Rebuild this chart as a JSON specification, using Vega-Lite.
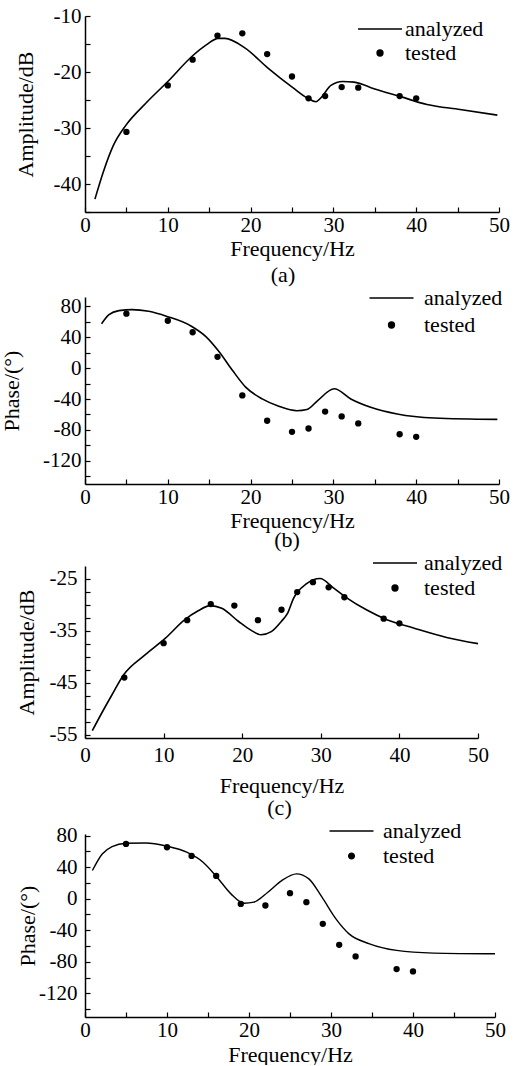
{
  "$schema": "https://vega.github.io/schema/vega-lite/v6.json",
  "background": "white",
  "padding": {"left": 0, "top": 5, "right": 5, "bottom": 0},
  "spacing": 0,
  "config": {
    "view": {"stroke": null},
    "font": "Liberation Serif",
    "axis": {
      "grid": false,
      "domainColor": "black",
      "domainWidth": 1.5,
      "tickColor": "black",
      "tickWidth": 1.2,
      "tickSize": -5,
      "labelFont": "Liberation Serif",
      "labelFontSize": 21,
      "labelColor": "black",
      "labelPadding": 9,
      "labelFlush": false,
      "labelOverlap": false,
      "titleFont": "Liberation Serif",
      "titleFontSize": 22,
      "titleFontWeight": "normal",
      "titleColor": "black"
    },
    "legend": {
      "orient": "none",
      "title": null,
      "padding": 0,
      "symbolSize": 1936,
      "clipHeight": 23,
      "labelFont": "Liberation Serif",
      "labelFontSize": 22,
      "labelColor": "black"
    },
    "title": {"font": "Liberation Serif", "fontSize": 22, "fontWeight": "normal", "color": "black"}
  },
  "resolve": {"scale": {"x": "independent", "y": "independent", "color": "independent"}, "legend": {"color": "independent"}},
  "datasets": {
    "a_line": [
      {"f": 1.2, "v": -42.7, "s": "analyzed"}, {"f": 2.2, "v": -37.9, "s": "analyzed"}, {"f": 3.4, "v": -33.2, "s": "analyzed"},
      {"f": 5.0, "v": -29.4, "s": "analyzed"}, {"f": 7.4, "v": -25.5, "s": "analyzed"}, {"f": 10.0, "v": -21.7, "s": "analyzed"},
      {"f": 13.0, "v": -17.1, "s": "analyzed"}, {"f": 14.6, "v": -15.2, "s": "analyzed"}, {"f": 16.1, "v": -14.0, "s": "analyzed"},
      {"f": 16.9, "v": -14.0, "s": "analyzed"}, {"f": 19.3, "v": -15.7, "s": "analyzed"}, {"f": 22.1, "v": -19.3, "s": "analyzed"},
      {"f": 25.1, "v": -22.8, "s": "analyzed"}, {"f": 26.9, "v": -24.7, "s": "analyzed"}, {"f": 27.9, "v": -25.3, "s": "analyzed"},
      {"f": 28.5, "v": -24.6, "s": "analyzed"}, {"f": 29.7, "v": -22.4, "s": "analyzed"}, {"f": 31.1, "v": -21.7, "s": "analyzed"},
      {"f": 32.5, "v": -21.8, "s": "analyzed"}, {"f": 34.9, "v": -23.0, "s": "analyzed"}, {"f": 38.1, "v": -24.4, "s": "analyzed"},
      {"f": 41.3, "v": -25.8, "s": "analyzed"}, {"f": 45.3, "v": -26.7, "s": "analyzed"}, {"f": 49.8, "v": -27.7, "s": "analyzed"}
    ],
    "a_pts": [
      {"f": 5, "v": -30.7, "s": "tested"}, {"f": 10, "v": -22.4, "s": "tested"}, {"f": 13, "v": -17.8, "s": "tested"},
      {"f": 16, "v": -13.5, "s": "tested"}, {"f": 19, "v": -13.1, "s": "tested"}, {"f": 22, "v": -16.8, "s": "tested"},
      {"f": 25, "v": -20.8, "s": "tested"}, {"f": 27, "v": -24.7, "s": "tested"}, {"f": 29, "v": -24.3, "s": "tested"},
      {"f": 31, "v": -22.7, "s": "tested"}, {"f": 33, "v": -22.8, "s": "tested"}, {"f": 38, "v": -24.3, "s": "tested"},
      {"f": 40, "v": -24.7, "s": "tested"}
    ],
    "b_line": [
      {"f": 2.0, "v": 57.4, "s": "analyzed"}, {"f": 2.9, "v": 69.2, "s": "analyzed"}, {"f": 4.1, "v": 74.4, "s": "analyzed"},
      {"f": 5.7, "v": 75.7, "s": "analyzed"}, {"f": 7.7, "v": 73.5, "s": "analyzed"}, {"f": 9.9, "v": 66.9, "s": "analyzed"},
      {"f": 12.9, "v": 53.9, "s": "analyzed"}, {"f": 14.6, "v": 40.8, "s": "analyzed"}, {"f": 16.2, "v": 21.2, "s": "analyzed"},
      {"f": 17.8, "v": -2.8, "s": "analyzed"}, {"f": 19.4, "v": -24.6, "s": "analyzed"}, {"f": 21.4, "v": -39.9, "s": "analyzed"},
      {"f": 23.4, "v": -49.4, "s": "analyzed"}, {"f": 25.6, "v": -55.2, "s": "analyzed"}, {"f": 26.8, "v": -53.7, "s": "analyzed"},
      {"f": 28.1, "v": -42.0, "s": "analyzed"}, {"f": 30.1, "v": -26.8, "s": "analyzed"}, {"f": 32.1, "v": -39.9, "s": "analyzed"},
      {"f": 34.5, "v": -50.7, "s": "analyzed"}, {"f": 37.7, "v": -59.4, "s": "analyzed"}, {"f": 42.2, "v": -64.6, "s": "analyzed"},
      {"f": 49.8, "v": -66.4, "s": "analyzed"}
    ],
    "b_pts": [
      {"f": 5, "v": 70.4, "s": "tested"}, {"f": 10, "v": 61.3, "s": "tested"}, {"f": 13, "v": 46.4, "s": "tested"},
      {"f": 16, "v": 14.6, "s": "tested"}, {"f": 19, "v": -35.4, "s": "tested"}, {"f": 22, "v": -68.1, "s": "tested"},
      {"f": 25, "v": -82.5, "s": "tested"}, {"f": 27, "v": -78.2, "s": "tested"}, {"f": 29, "v": -56.3, "s": "tested"},
      {"f": 31, "v": -62.5, "s": "tested"}, {"f": 33, "v": -71.6, "s": "tested"}, {"f": 38, "v": -85.6, "s": "tested"},
      {"f": 40, "v": -89.0, "s": "tested"}
    ],
    "c_line": [
      {"f": 0.93, "v": -54.2, "s": "analyzed"}, {"f": 2.1, "v": -50.9, "s": "analyzed"}, {"f": 3.4, "v": -47.4, "s": "analyzed"},
      {"f": 4.9, "v": -43.5, "s": "analyzed"}, {"f": 7.6, "v": -39.7, "s": "analyzed"}, {"f": 10.2, "v": -36.5, "s": "analyzed"},
      {"f": 12.7, "v": -32.9, "s": "analyzed"}, {"f": 14.4, "v": -31.2, "s": "analyzed"}, {"f": 15.9, "v": -30.2, "s": "analyzed"},
      {"f": 17.4, "v": -30.7, "s": "analyzed"}, {"f": 19.5, "v": -33.2, "s": "analyzed"}, {"f": 21.2, "v": -35.0, "s": "analyzed"},
      {"f": 22.4, "v": -35.8, "s": "analyzed"}, {"f": 23.7, "v": -35.2, "s": "analyzed"}, {"f": 25.0, "v": -33.2, "s": "analyzed"},
      {"f": 25.8, "v": -31.6, "s": "analyzed"}, {"f": 26.5, "v": -28.9, "s": "analyzed"}, {"f": 28.2, "v": -26.0, "s": "analyzed"},
      {"f": 29.9, "v": -25.0, "s": "analyzed"}, {"f": 31.6, "v": -26.8, "s": "analyzed"}, {"f": 33.3, "v": -28.7, "s": "analyzed"},
      {"f": 35.8, "v": -31.0, "s": "analyzed"}, {"f": 38.4, "v": -32.9, "s": "analyzed"}, {"f": 41.8, "v": -34.5, "s": "analyzed"},
      {"f": 46.0, "v": -36.3, "s": "analyzed"}, {"f": 50.0, "v": -37.5, "s": "analyzed"}
    ],
    "c_pts": [
      {"f": 5, "v": -44.0, "s": "tested"}, {"f": 10, "v": -37.4, "s": "tested"}, {"f": 13, "v": -33.0, "s": "tested"},
      {"f": 16, "v": -29.9, "s": "tested"}, {"f": 19, "v": -30.2, "s": "tested"}, {"f": 22, "v": -33.0, "s": "tested"},
      {"f": 25, "v": -31.0, "s": "tested"}, {"f": 27, "v": -27.6, "s": "tested"}, {"f": 29, "v": -25.7, "s": "tested"},
      {"f": 31, "v": -26.7, "s": "tested"}, {"f": 33, "v": -28.6, "s": "tested"}, {"f": 38, "v": -32.7, "s": "tested"},
      {"f": 40, "v": -33.6, "s": "tested"}
    ],
    "d_line": [
      {"f": 0.9, "v": 35.7, "s": "analyzed"}, {"f": 2.1, "v": 56.7, "s": "analyzed"}, {"f": 3.3, "v": 66.1, "s": "analyzed"},
      {"f": 5.0, "v": 70.3, "s": "analyzed"}, {"f": 7.4, "v": 70.6, "s": "analyzed"}, {"f": 10.0, "v": 66.5, "s": "analyzed"},
      {"f": 12.4, "v": 58.9, "s": "analyzed"}, {"f": 14.4, "v": 46.2, "s": "analyzed"}, {"f": 16.1, "v": 27.2, "s": "analyzed"},
      {"f": 17.8, "v": 6.1, "s": "analyzed"}, {"f": 19.4, "v": -5.7, "s": "analyzed"}, {"f": 20.6, "v": -4.4, "s": "analyzed"},
      {"f": 22.3, "v": 8.2, "s": "analyzed"}, {"f": 24.0, "v": 23.0, "s": "analyzed"}, {"f": 25.8, "v": 31.4, "s": "analyzed"},
      {"f": 27.3, "v": 25.1, "s": "analyzed"}, {"f": 28.9, "v": 1.9, "s": "analyzed"}, {"f": 30.6, "v": -25.6, "s": "analyzed"},
      {"f": 32.2, "v": -44.6, "s": "analyzed"}, {"f": 34.7, "v": -57.2, "s": "analyzed"}, {"f": 38.0, "v": -65.6, "s": "analyzed"},
      {"f": 42.5, "v": -69.0, "s": "analyzed"}, {"f": 50.0, "v": -69.9, "s": "analyzed"}
    ],
    "d_pts": [
      {"f": 5, "v": 69.4, "s": "tested"}, {"f": 10, "v": 65.2, "s": "tested"}, {"f": 13, "v": 54.2, "s": "tested"},
      {"f": 16, "v": 28.9, "s": "tested"}, {"f": 19, "v": -6.6, "s": "tested"}, {"f": 22, "v": -8.6, "s": "tested"},
      {"f": 25, "v": 7.0, "s": "tested"}, {"f": 27, "v": -4.4, "s": "tested"}, {"f": 29, "v": -31.9, "s": "tested"},
      {"f": 31, "v": -58.5, "s": "tested"}, {"f": 33, "v": -73.2, "s": "tested"}, {"f": 38, "v": -89.3, "s": "tested"},
      {"f": 40, "v": -92.2, "s": "tested"}
    ]
  },
  "vconcat": [
    {
      "width": 414, "height": 196,
      "title": {"text": "(a)", "orient": "bottom", "frame": "group", "anchor": "middle", "offset": 5.5, "dx": -9},
      "resolve": {"axis": {"y": "independent"}},
      "layer": [
        {
          "data": {"name": "a_line"},
          "mark": {"type": "line", "interpolate": "monotone", "strokeWidth": 1.6},
          "encoding": {
            "x": {"field": "f", "type": "quantitative", "scale": {"domain": [0, 50], "nice": false},
                  "axis": {"title": "Frequency/Hz", "values": [0, 5, 10, 15, 20, 25, 30, 35, 40, 45, 50], "labelExpr": "datum.value % 10 === 0 ? '' + datum.value : ''", "labelOverlap": false, "labelPadding": 7, "titlePadding": 3}},
            "y": {"field": "v", "type": "quantitative", "scale": {"domain": [-45, -10], "nice": false, "zero": false},
                  "axis": {"orient": "left", "title": "Amplitude/dB", "values": [-40, -30, -20, -10], "labelExpr": "'' + datum.value", "labelPadding": 9, "titlePadding": 16}},
            "color": {"field": "s", "type": "nominal", "scale": {"domain": ["analyzed", "tested"], "range": ["black", "black"]},
                      "legend": {"legendX": 272, "legendY": 1.5, "labelOffset": 2, "rowPadding": 1,
                                 "encode": {"symbols": {"update": {
                                   "shape": {"signal": "datum.value === 'analyzed' ? 'M-1,0H1' : 'M-0.13,0A0.13,0.13 0 1,0 0.13,0A0.13,0.13 0 1,0 -0.13,0Z'"},
                                   "size": {"value": 1936},
                                   "strokeWidth": {"value": 1.6},
                                   "fill": {"signal": "datum.value === 'analyzed' ? 'transparent' : 'black'"},
                                   "stroke": {"value": "black"}, "opacity": {"value": 1}}}}}}
          }
        },
        {
          "data": {"name": "a_pts"},
          "mark": {"type": "point", "filled": true, "size": 40, "opacity": 1},
          "encoding": {"x": {"field": "f", "type": "quantitative"},
                       "y": {"field": "v", "type": "quantitative", "axis": {"orient": "left", "values": [-45, -35, -25, -15], "labels": false, "domain": false, "title": null}},
                       "color": {"field": "s", "type": "nominal"}}
        }
      ]
    },
    {
      "width": 414, "height": 187,
      "title": {"text": "(b)", "orient": "bottom", "frame": "group", "anchor": "middle", "offset": -1, "dx": -5},
      "resolve": {"axis": {"y": "independent"}},
      "layer": [
        {
          "data": {"name": "b_line"},
          "mark": {"type": "line", "interpolate": "monotone", "strokeWidth": 1.6},
          "encoding": {
            "x": {"field": "f", "type": "quantitative", "scale": {"domain": [0, 50], "nice": false},
                  "axis": {"title": "Frequency/Hz", "values": [0, 5, 10, 15, 20, 25, 30, 35, 40, 45, 50], "labelExpr": "datum.value % 10 === 0 ? '' + datum.value : ''", "labelOverlap": false, "labelPadding": 7, "titlePadding": 3}},
            "y": {"field": "v", "type": "quantitative", "scale": {"domain": [-150, 92], "nice": false, "zero": false},
                  "axis": {"orient": "left", "title": "Phase/(°)", "values": [-120, -80, -40, 0, 40, 80], "labelExpr": "'' + datum.value", "labelPadding": 9, "titlePadding": 19.5}},
            "color": {"field": "s", "type": "nominal", "scale": {"domain": ["analyzed", "tested"], "range": ["black", "black"]},
                      "legend": {"legendX": 283.5, "legendY": -10.5, "labelOffset": 9.5, "rowPadding": 4,
                                 "encode": {"symbols": {"update": {
                                   "shape": {"signal": "datum.value === 'analyzed' ? 'M-1,0H1' : 'M-0.13,0A0.13,0.13 0 1,0 0.13,0A0.13,0.13 0 1,0 -0.13,0Z'"},
                                   "size": {"value": 1936},
                                   "strokeWidth": {"value": 1.6},
                                   "fill": {"signal": "datum.value === 'analyzed' ? 'transparent' : 'black'"},
                                   "stroke": {"value": "black"}, "opacity": {"value": 1}}}}}}
          }
        },
        {
          "data": {"name": "b_pts"},
          "mark": {"type": "point", "filled": true, "size": 40, "opacity": 1},
          "encoding": {"x": {"field": "f", "type": "quantitative"},
                       "y": {"field": "v", "type": "quantitative", "axis": {"orient": "left", "values": [-140, -100, -60, -20, 20, 60], "labels": false, "domain": false, "title": null}},
                       "color": {"field": "s", "type": "nominal"}}
        }
      ]
    },
    {
      "width": 393, "height": 172,
      "title": {"text": "(c)", "orient": "bottom", "frame": "group", "anchor": "middle", "offset": 2, "dx": -2},
      "resolve": {"axis": {"y": "independent"}},
      "layer": [
        {
          "data": {"name": "c_line"},
          "mark": {"type": "line", "interpolate": "monotone", "strokeWidth": 1.6},
          "encoding": {
            "x": {"field": "f", "type": "quantitative", "scale": {"domain": [0, 50], "nice": false},
                  "axis": {"title": "Frequency/Hz", "values": [0, 5, 10, 15, 20, 25, 30, 35, 40, 45, 50], "labelExpr": "datum.value % 10 === 0 ? '' + datum.value : ''", "labelOverlap": false, "labelPadding": 11, "titlePadding": 10}},
            "y": {"field": "v", "type": "quantitative", "scale": {"domain": [-55.6, -22.6], "nice": false, "zero": false},
                  "axis": {"orient": "left", "title": "Amplitude/dB", "values": [-55, -45, -35, -25], "labelExpr": "'' + datum.value", "labelPadding": 13, "titlePadding": 11}},
            "color": {"field": "s", "type": "nominal", "scale": {"domain": ["analyzed", "tested"], "range": ["black", "black"]},
                      "legend": {"legendX": 287, "legendY": -14.5, "labelOffset": 6, "rowPadding": 2,
                                 "encode": {"symbols": {"update": {
                                   "shape": {"signal": "datum.value === 'analyzed' ? 'M-1,0H1' : 'M-0.13,0A0.13,0.13 0 1,0 0.13,0A0.13,0.13 0 1,0 -0.13,0Z'"},
                                   "size": {"value": 1936},
                                   "strokeWidth": {"value": 1.6},
                                   "fill": {"signal": "datum.value === 'analyzed' ? 'transparent' : 'black'"},
                                   "stroke": {"value": "black"}, "opacity": {"value": 1}}}}}}
          }
        },
        {
          "data": {"name": "c_pts"},
          "mark": {"type": "point", "filled": true, "size": 40, "opacity": 1},
          "encoding": {"x": {"field": "f", "type": "quantitative"},
                       "y": {"field": "v", "type": "quantitative", "axis": {"orient": "left", "values": [-52.5, -50, -47.5, -42.5, -40, -37.5, -32.5, -30, -27.5], "labels": false, "domain": false, "title": null}},
                       "color": {"field": "s", "type": "nominal"}}
        }
      ]
    },
    {
      "width": 410, "height": 183,
      "resolve": {"axis": {"y": "independent"}},
      "layer": [
        {
          "data": {"name": "d_line"},
          "mark": {"type": "line", "interpolate": "monotone", "strokeWidth": 1.4},
          "encoding": {
            "x": {"field": "f", "type": "quantitative", "scale": {"domain": [0, 50], "nice": false},
                  "axis": {"title": "Frequency/Hz", "values": [0, 5, 10, 15, 20, 25, 30, 35, 40, 45, 50], "labelExpr": "datum.value % 10 === 0 ? '' + datum.value : ''", "labelOverlap": false, "labelPadding": 7, "titlePadding": 4}},
            "y": {"field": "v", "type": "quantitative", "scale": {"domain": [-150, 82], "nice": false, "zero": false},
                  "axis": {"orient": "left", "title": "Phase/(°)", "values": [-120, -80, -40, 0, 40, 80], "labelExpr": "'' + datum.value", "labelPadding": 13, "titlePadding": -1}},
            "color": {"field": "s", "type": "nominal", "scale": {"domain": ["analyzed", "tested"], "range": ["black", "black"]},
                      "legend": {"legendX": 243.5, "legendY": -14.5, "labelOffset": 8.5, "rowPadding": 2,
                                 "encode": {"symbols": {"update": {
                                   "shape": {"signal": "datum.value === 'analyzed' ? 'M-1,0H1' : 'M-0.13,0A0.13,0.13 0 1,0 0.13,0A0.13,0.13 0 1,0 -0.13,0Z'"},
                                   "size": {"value": 1936},
                                   "strokeWidth": {"value": 1.4},
                                   "fill": {"signal": "datum.value === 'analyzed' ? 'transparent' : 'black'"},
                                   "stroke": {"value": "black"}, "opacity": {"value": 1}}}}}}
          }
        },
        {
          "data": {"name": "d_pts"},
          "mark": {"type": "point", "filled": true, "size": 40, "opacity": 1},
          "encoding": {"x": {"field": "f", "type": "quantitative"},
                       "y": {"field": "v", "type": "quantitative", "axis": {"orient": "left", "values": [-140, -100, -60, -20, 20, 60], "labels": false, "domain": false, "title": null}},
                       "color": {"field": "s", "type": "nominal"}}
        }
      ]
    }
  ]
}
